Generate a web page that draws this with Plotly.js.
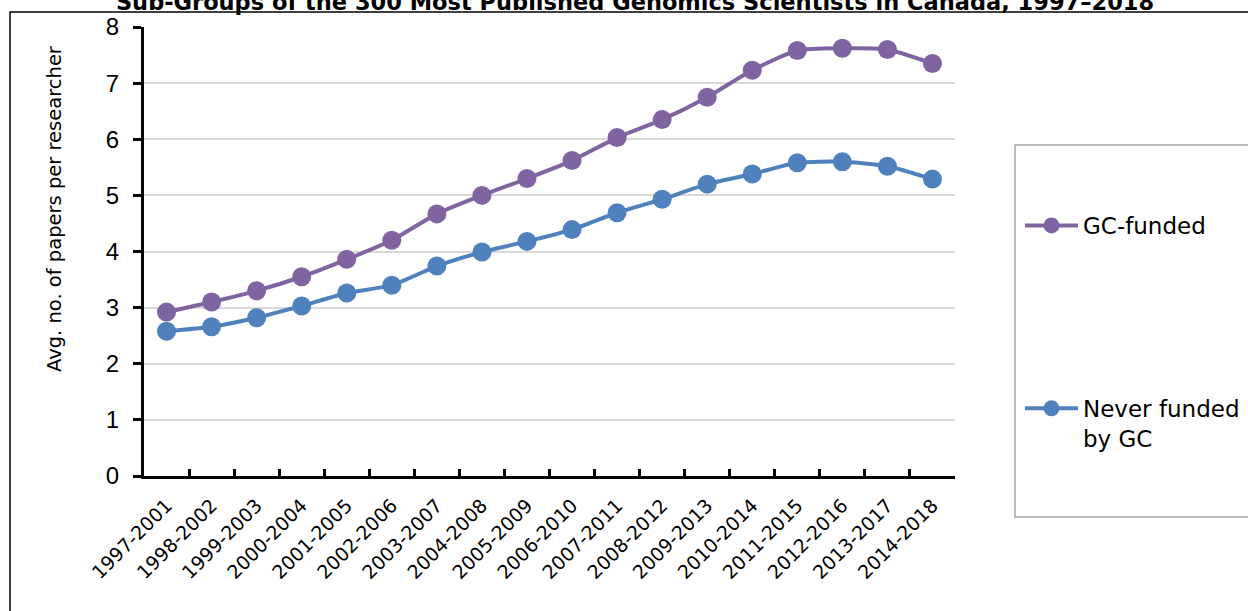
<!DOCTYPE html>
<html>
<head>
<meta charset="utf-8">
<script src="https://cdn.plot.ly/plotly-3.0.1.min.js"></script>
<style>html,body{margin:0;padding:0;background:#fff;}#chart{width:1248px;height:611px;}</style>
</head>
<body>
<div id="chart"></div>
<script>
const categories = ["1997-2001","1998-2002","1999-2003","2000-2004","2001-2005","2002-2006","2003-2007","2004-2008","2005-2009","2006-2010","2007-2011","2008-2012","2009-2013","2010-2014","2011-2015","2012-2016","2013-2017","2014-2018"];
const gcFunded = [2.92,3.1,3.3,3.55,3.86,4.2,4.67,5.0,5.3,5.62,6.03,6.35,6.75,7.23,7.58,7.62,7.6,7.35];
const neverFunded = [2.58,2.66,2.82,3.03,3.26,3.4,3.74,3.99,4.18,4.39,4.69,4.93,5.2,5.38,5.58,5.6,5.52,5.29];
const seriesNames = ["GC-funded","Never funded<br>by GC"];
const yTicks = [0,1,2,3,4,5,6,7,8];

const gothic = "'Century Gothic','URW Gothic','DejaVu Sans',sans-serif";

const traces = [
  {x: categories, y: gcFunded, name: seriesNames[0], type: 'scatter', mode: 'lines+markers',
   line: {color: '#8064A2', width: 4, shape: 'spline', smoothing: 0.6},
   marker: {color: '#8064A2', size: 19}, legendgroup: 'a'},
  {x: categories, y: neverFunded, name: seriesNames[1], type: 'scatter', mode: 'lines+markers',
   line: {color: '#4F81BD', width: 4, shape: 'spline', smoothing: 0.6},
   marker: {color: '#4F81BD', size: 19}, legendgroup: 'b'}
];

const px2x = p => (p - 144) / 811;
const px2y = p => (476 - p) / 449;

const layout = {
  width: 1248, height: 611,
  margin: {l: 144, r: 293, t: 27, b: 135, autoexpand: false},
  paper_bgcolor: '#fff', plot_bgcolor: '#fff',
  title: {text: '<b>Sub-Groups of the 300 Most Published Genomics Scientists in Canada, 1997–2018</b>',
          x: 635/1248, xanchor: 'center', xref: 'container', y: 1 - 10/611, yref: 'container', yanchor: 'bottom',
          font: {family: "'DejaVu Sans', sans-serif", size: 22.5, color: '#000'}},
  xaxis: {
    type: 'category', tickangle: -45, tickson: 'boundaries', ticks: 'inside', ticklen: 7, tickwidth: 3,
    tickcolor: '#000', showline: true, linecolor: '#000', linewidth: 3, showgrid: false,
    tickfont: {family: gothic, size: 19, color: '#000'}, range: [-0.5, 17.5], fixedrange: true,
    ticklabelstandoff: 8, automargin: false
  },
  yaxis: {
    range: [0, 8], tickvals: yTicks, ticks: 'outside', ticklen: 8, tickwidth: 3, tickcolor: '#000',
    showline: true, linecolor: '#000', linewidth: 3, showgrid: true, gridcolor: '#d9d9d9', gridwidth: 2,
    zeroline: false, tickfont: {family: "'Liberation Sans', Arial, sans-serif", size: 24, color: '#000'},
    ticklabelstandoff: 9, automargin: false
  },
  showlegend: true,
  legend: {x: px2x(1020), xanchor: 'left', y: px2y(204), yanchor: 'top', borderwidth: 0,
           bgcolor: 'rgba(0,0,0,0)', tracegroupgap: 150, valign: 'top',
           font: {family: gothic, size: 23, color: '#000'}, itemwidth: 53},
  annotations: [
    {text: 'Avg. no. of papers per researcher', xref: 'paper', yref: 'paper', x: px2x(54), y: px2y(209),
     xanchor: 'center', yanchor: 'middle', textangle: -90, showarrow: false,
     font: {family: gothic, size: 19.5, color: '#000'}}
  ],
  shapes: [
    {type: 'rect', xref: 'paper', yref: 'paper', x0: px2x(10), x1: 1.5, y0: -0.5, y1: px2y(12),
     line: {color: '#000', width: 1.5}, fillcolor: 'rgba(0,0,0,0)', layer: 'below'},
    {type: 'rect', xref: 'paper', yref: 'paper', x0: px2x(1015), x1: px2x(1262), y0: px2y(517), y1: px2y(145),
     line: {color: '#a6a6a6', width: 1.5}, fillcolor: 'rgba(0,0,0,0)', layer: 'below'}
  ]
};

Plotly.newPlot('chart', traces, layout, {displayModeBar: false, staticPlot: true});
</script>
</body>
</html>
